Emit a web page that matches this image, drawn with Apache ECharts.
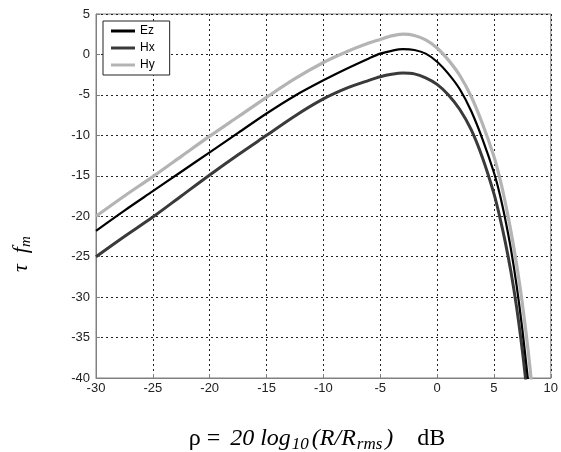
<!DOCTYPE html>
<html>
<head>
<meta charset="utf-8">
<script src="https://cdn.jsdelivr.net/npm/echarts@6/dist/echarts.min.js"></script>
<style>html,body{margin:0;padding:0;background:#fff;}#c{width:561px;height:452px;}</style>
</head>
<body>
<div id="c"></div>
<script>
const seriesNames = ['Ez', 'Hx', 'Hy'];
const ezX = [-30,-27.5,-25,-22.5,-20,-17.5,-15,-12.5,-10,-8,-6,-5,-4,-3,-2,-1,0,1,2,3,4,5,5.5,6,6.5,7,7.5,8];
const ezY = [-21.8,-19.3,-16.9,-14.5,-12.1,-9.7,-7.3,-5.1,-3.2,-1.8,-0.5,0.1,0.45,0.65,0.55,0.1,-0.9,-2.4,-4.3,-7.0,-10.5,-14.6,-17.2,-20.4,-24.1,-28.6,-34.0,-40.3];
const hxX = [-30,-27.5,-25,-22.5,-20,-17.5,-15,-12.5,-10,-8,-6,-5,-4,-3,-2,-1,0,1,2,3,4,5,5.5,6,6.5,7,7.5,7.8];
const hxY = [-25,-22.5,-20.1,-17.5,-14.9,-12.4,-10.0,-7.6,-5.5,-4.2,-3.2,-2.75,-2.45,-2.3,-2.4,-2.9,-3.7,-5.0,-6.8,-9.3,-12.8,-17.2,-20,-23.2,-26.9,-31.3,-36.6,-40.3];
const hyX = [-30,-27.5,-25,-22.5,-20,-17.5,-15,-12.5,-10,-8,-6,-5,-4,-3,-2,-1,0,1,2,3,4,5,5.5,6,6.5,7,7.5,8,8.3];
const hyY = [-20,-17.5,-15.1,-12.6,-10.1,-7.7,-5.3,-3.0,-1.0,0.3,1.4,1.85,2.3,2.5,2.35,1.8,0.8,-0.7,-2.6,-5.2,-8.6,-12.6,-15.2,-18.3,-21.9,-26.0,-30.8,-36.5,-40.5];
const xTicks = [-30, 10, 5];   // min, max, interval
const yTicks = [-40, 5, 5];

function pairs(xa, ya) { return xa.map((x, i) => [x, ya[i]]); }

const chart = echarts.init(document.getElementById('c'), null, {renderer: 'canvas'});
const gridLine = {show: true, lineStyle: {color: '#222', width: 1, type: [2, 3]}};
const lbl = {color: '#222', fontSize: 13, fontFamily: 'Liberation Sans, Arial, sans-serif'};
const serif = 'Liberation Serif, Times New Roman, serif';
chart.setOption({
  animation: false,
  backgroundColor: '#fff',
  grid: {left: 96, right: 7, top: 14, bottom: 74, show: true, borderColor: '#808080', borderWidth: 1, backgroundColor: '#fff'},
  xAxis: {
    type: 'value', min: xTicks[0], max: xTicks[1], interval: xTicks[2],
    axisLine: {show: true, onZero: false, lineStyle: {color: '#808080'}},
    axisTick: {show: true, inside: true, length: 4, lineStyle: {color: '#808080'}},
    axisLabel: Object.assign({margin: 4, showMinLabel: true, showMaxLabel: true}, lbl),
    splitLine: gridLine
  },
  yAxis: {
    type: 'value', min: yTicks[0], max: yTicks[1], interval: yTicks[2],
    axisLine: {show: true, onZero: false, lineStyle: {color: '#808080'}},
    axisTick: {show: true, inside: true, length: 4, lineStyle: {color: '#808080'}},
    axisLabel: Object.assign({margin: 6, showMinLabel: true, showMaxLabel: true}, lbl),
    splitLine: gridLine
  },
  legend: {
    orient: 'vertical', left: 103, top: 21,
    data: seriesNames,
    icon: 'rect',
    itemWidth: 24, itemHeight: 3, itemGap: 3,
    padding: [3, 15, 3, 8],
    borderColor: '#222', borderWidth: 1, backgroundColor: '#fff',
    textStyle: {color: '#000', fontSize: 12, lineHeight: 14, fontFamily: 'Liberation Sans, Arial, sans-serif'}
  },
  series: [
    {name: seriesNames[0], type: 'line', data: pairs(ezX, ezY), smooth: 0.3, symbol: 'none', z: 4,
     lineStyle: {color: '#000', width: 2.2}, itemStyle: {color: '#000'}},
    {name: seriesNames[1], type: 'line', data: pairs(hxX, hxY), smooth: 0.3, symbol: 'none', z: 3,
     lineStyle: {color: '#3a3a3a', width: 3}, itemStyle: {color: '#3a3a3a'}},
    {name: seriesNames[2], type: 'line', data: pairs(hyX, hyY), smooth: 0.3, symbol: 'none', z: 2,
     lineStyle: {color: '#b4b4b4', width: 3.2}, itemStyle: {color: '#b4b4b4'}}
  ],
  graphic: [
    {type: 'text', x: 317, y: 425,
     style: {
       text: '{n|ρ = }{a|20 log}{s|10}{i|(R/R}{r|rms}{i|)}{n|    dB}',
       align: 'center',
       rich: {
         n: {fontFamily: serif, fontSize: 24, fill: '#000'},
         i: {fontFamily: serif, fontSize: 24, fontStyle: 'italic', fill: '#000'},
         a: {fontFamily: serif, fontSize: 24, fontStyle: 'italic', fill: '#000', padding: [0, 0, 0, 4]},
         s: {fontFamily: serif, fontSize: 17, fontStyle: 'italic', fill: '#000', padding: [11, 3, 0, 1]},
         r: {fontFamily: serif, fontSize: 17, fontStyle: 'italic', fill: '#000', padding: [11, 3, 0, 1]}
       }
     }},
    {type: 'text', x: 9, y: 272, rotation: Math.PI / 2,
     style: {
       text: '{i|τ  f}{s|m}',
       rich: {
         i: {fontFamily: serif, fontSize: 22, fontStyle: 'italic', fill: '#000'},
         s: {fontFamily: serif, fontSize: 15, fontStyle: 'italic', fill: '#000', padding: [10, 0, 0, 0]}
       }
     }}
  ]
});
</script>
</body>
</html>
